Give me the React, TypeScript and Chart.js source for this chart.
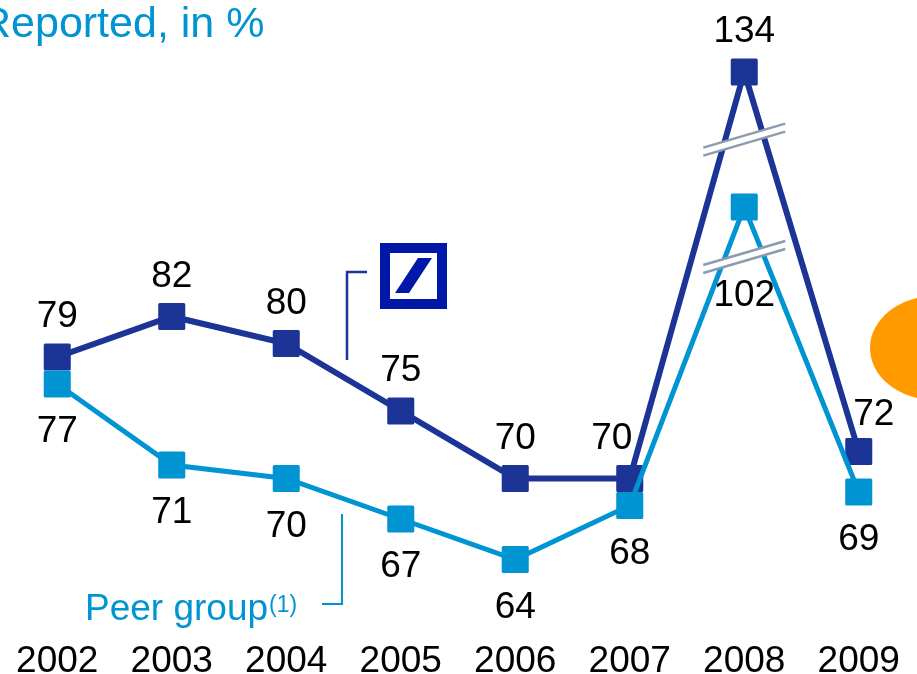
import React, { useEffect, useRef } from 'react';
import { Chart, registerables } from 'chart.js';

Chart.register(...registerables);

// ---- data ----
const years = ['2002', '2003', '2004', '2005', '2006', '2007', '2008', '2009'];
const deutscheBank = [79, 82, 80, 75, 70, 70, 134, 72];
const peerGroup = [77, 71, 70, 67, 64, 68, 102, 69];
const chartTitle = 'Reported, in %';
const peerLabel = 'Peer group';
const peerNote = '(1)';

// broken value axis: values above the break are compressed
const AXIS_BREAK = 84.7;
const BREAK_FACTOR = 0.3125;
const toPlot = (v: number) => (v > AXIS_BREAK ? AXIS_BREAK + (v - AXIS_BREAK) * BREAK_FACTOR : v);

// ---- style ----
const DARK = '#1B3496';
const LIGHT = '#0095D2';
const LOGO = '#0018A8';
const GREY = '#8A9BB0';
const ORANGE = '#FF9900';
const FONT = '"Liberation Sans", Arial, sans-serif';

function textAt(ctx: CanvasRenderingContext2D, t: string, x: number, cy: number, size: number, color = '#000') {
  ctx.font = `${size}px ${FONT}`;
  ctx.fillStyle = color;
  ctx.textAlign = 'center';
  ctx.textBaseline = 'alphabetic';
  ctx.fillText(t, x, cy + 0.358 * size);
}

const decor = {
  id: 'decor',
  beforeDatasetsDraw(chart: any) {
    const ctx = chart.ctx as CanvasRenderingContext2D;
    // orange shape at the right edge
    ctx.save();
    ctx.fillStyle = ORANGE;
    ctx.beginPath();
    ctx.ellipse(935, 348, 65, 52, 0, 0, Math.PI * 2);
    ctx.fill();
    ctx.restore();
    ctx.lineJoin = 'round';
  },
  afterDatasetsDraw(chart: any) {
    const ctx = chart.ctx as CanvasRenderingContext2D;
    const xs = chart.scales.x;
    const ys = chart.scales.y;
    ctx.save();

    // axis break marks
    const breaks = [
      { i: 6, v: 95.1 },
      { i: 6, v: 86.4 },
    ];
    breaks.forEach((b) => {
      const cx = xs.getPixelForValue(b.i);
      const cy = ys.getPixelForValue(b.v);
      const hx = 41;
      const hy = 12;
      ctx.lineCap = 'butt';
      ctx.strokeStyle = '#fff';
      ctx.lineWidth = 7;
      ctx.beginPath();
      ctx.moveTo(cx - hx, cy + hy);
      ctx.lineTo(cx + hx, cy - hy);
      ctx.stroke();
      ctx.strokeStyle = GREY;
      ctx.lineWidth = 2.5;
      [-4, 4].forEach((o) => {
        ctx.beginPath();
        ctx.moveTo(cx - hx, cy + hy + o);
        ctx.lineTo(cx + hx, cy - hy + o);
        ctx.stroke();
      });
    });

    // value labels
    const labelCfg = [
      { data: peerGroup, ds: 0, dy: 45, over: { 6: { dx: 0, dy: 86 } } as Record<number, { dx: number; dy: number }> },
      { data: deutscheBank, ds: 1, dy: -43, over: { 5: { dx: -18, dy: -43 }, 7: { dx: 15, dy: -40 } } as Record<number, { dx: number; dy: number }> },
    ];
    labelCfg.forEach((c) => {
      const meta = chart.getDatasetMeta(c.ds);
      c.data.forEach((val, i) => {
        const pt = meta.data[i];
        const o = c.over[i] || { dx: 0, dy: c.dy };
        textAt(ctx, String(val), pt.x + o.dx, pt.y + o.dy, 37);
      });
    });

    // category labels
    years.forEach((y, i) => {
      textAt(ctx, y, xs.getPixelForValue(i), 659, 37);
    });

    // title
    ctx.font = `43px ${FONT}`;
    ctx.fillStyle = LIGHT;
    ctx.textAlign = 'left';
    ctx.textBaseline = 'alphabetic';
    ctx.fillText(chartTitle, -20, 37);

    // Deutsche Bank logo
    ctx.strokeStyle = LOGO;
    ctx.lineWidth = 10;
    ctx.lineJoin = 'miter';
    ctx.strokeRect(385, 248, 57, 56);
    ctx.fillStyle = LOGO;
    ctx.beginPath();
    ctx.moveTo(418, 258);
    ctx.lineTo(432, 258);
    ctx.lineTo(409, 293);
    ctx.lineTo(395, 293);
    ctx.closePath();
    ctx.fill();

    // bracket to dark line
    ctx.strokeStyle = DARK;
    ctx.lineWidth = 2.5;
    ctx.beginPath();
    ctx.moveTo(367, 272);
    ctx.lineTo(347, 272);
    ctx.lineTo(347, 360);
    ctx.stroke();

    // bracket to peer line
    ctx.strokeStyle = LIGHT;
    ctx.lineWidth = 2;
    ctx.beginPath();
    ctx.moveTo(342, 514);
    ctx.lineTo(342, 604);
    ctx.lineTo(322, 604);
    ctx.stroke();

    // peer group label
    ctx.fillStyle = LIGHT;
    ctx.textAlign = 'left';
    ctx.font = `37px ${FONT}`;
    ctx.fillText(peerLabel, 85, 620);
    const w = ctx.measureText(peerLabel).width;
    ctx.font = `23px ${FONT}`;
    ctx.fillText(peerNote, 85 + w + 1, 612);

    ctx.restore();
  },
};

export default function App() {
  const ref = useRef<HTMLCanvasElement>(null);
  useEffect(() => {
    const canvas = ref.current;
    if (!canvas) return;
    const chart = new Chart(canvas, {
      type: 'line',
      data: {
        labels: years,
        datasets: [
          {
            label: 'Peer group',
            data: peerGroup.map(toPlot),
            borderColor: LIGHT,
            backgroundColor: LIGHT,
            pointBackgroundColor: LIGHT,
            pointBorderColor: LIGHT,
            borderWidth: 5,
            pointStyle: 'rect',
            pointRadius: 17,
            pointBorderWidth: 3,
            tension: 0,
            order: 0,
            clip: false,
          },
          {
            label: 'Deutsche Bank',
            data: deutscheBank.map(toPlot),
            borderColor: DARK,
            backgroundColor: DARK,
            pointBackgroundColor: DARK,
            pointBorderColor: DARK,
            borderWidth: 6,
            pointStyle: 'rect',
            pointRadius: 17,
            pointBorderWidth: 3,
            tension: 0,
            order: 1,
            clip: false,
          },
        ],
      },
      options: {
        responsive: false,
        animation: false,
        events: [],
        layout: { autoPadding: false, padding: { left: -1, right: 1, top: 0, bottom: 0 } },
        plugins: { legend: { display: false }, tooltip: { enabled: false } },
        scales: {
          x: { display: false, offset: true },
          y: { display: false, min: 55.52, max: 105.44 },
        },
      },
      plugins: [decor],
    } as any);
    return () => chart.destroy();
  }, []);
  return (
    <div style={{ position: 'absolute', left: 0, top: 0, width: 917, height: 674, background: '#fff', overflow: 'hidden' }}>
      <canvas ref={ref} width={917} height={674} style={{ display: 'block' }} />
    </div>
  );
}
